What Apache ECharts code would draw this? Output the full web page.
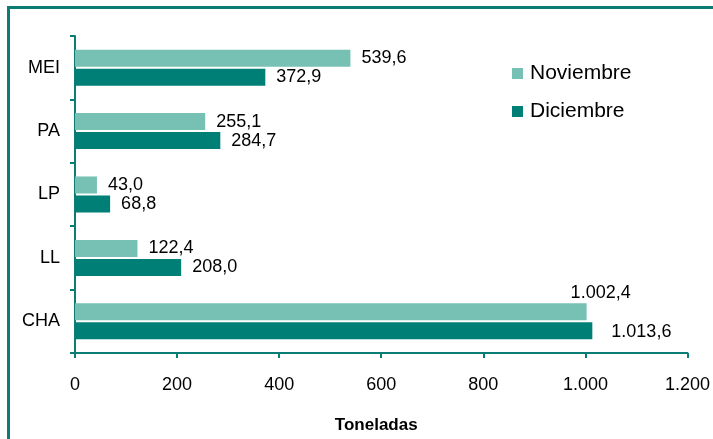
<!DOCTYPE html>
<html>
<head>
<meta charset="utf-8">
<script src="https://cdn.jsdelivr.net/npm/echarts@6/dist/echarts.min.js"></script>
<style>
  html, body { margin: 0; padding: 0; background: #fff; }
  #frame { position: absolute; left: 7px; top: 6px; right: 0; bottom: 0; border-left: 3px solid #0b7d75; border-top: 3px solid #0b7d75; }
  #myChart { position: absolute; left: 0; top: 0; width: 713px; height: 439px; }
</style>
</head>
<body>
<div id="frame"></div>
<div id="myChart"></div>
<script>
  const categories = ['MEI', 'PA', 'LP', 'LL', 'CHA'];
  const noviembre = [539.6, 255.1, 43.0, 122.4, 1002.4];
  const diciembre = [372.9, 284.7, 68.8, 208.0, 1013.6];
  const xTicks = [0, 200, 400, 600, 800, 1000, 1200];

  const lightTeal = '#76c0b4';
  const darkTeal = '#007f77';
  const axisTeal = '#0b7d75';

  // 1002.4 -> "1.002,4"
  const fmt = (v, dec) => {
    let s = v.toFixed(dec);
    let parts = s.split('.');
    parts[0] = parts[0].replace(/\B(?=(\d{3})+(?!\d))/g, '.');
    return parts.join(',');
  };

  const labelStyle = {
    show: true,
    position: 'right',
    distance: 11,
    color: '#000',
    fontFamily: 'Liberation Sans, Arial, sans-serif',
    fontSize: 18,
    formatter: p => fmt(p.value, 1)
  };

  // CHA labels sit above / shifted like in the original
  const novData = noviembre.map((v, i) => i === 4
    ? { value: v, label: { offset: [-27, -19] } }
    : v);
  const dicData = diciembre.map((v, i) => i === 4
    ? { value: v, label: { offset: [8, 1] } }
    : v);

  const myChart = echarts.init(document.getElementById('myChart'));
  myChart.setOption({
    animation: false,
    textStyle: { fontFamily: 'Liberation Sans, Arial, sans-serif' },
    legend: {
      data: ['Noviembre', 'Diciembre'],
      orient: 'vertical',
      left: 507,
      top: 58,
      icon: 'rect',
      itemWidth: 11,
      itemHeight: 11,
      itemGap: 17,
      textStyle: { fontSize: 21, color: '#000', padding: [0, 0, 0, 2] }
    },
    grid: { left: 75, right: 25, top: 36, bottom: 84 },
    xAxis: {
      type: 'value',
      min: xTicks[0],
      max: xTicks[xTicks.length - 1],
      interval: 200,
      name: 'Toneladas',
      nameLocation: 'middle',
      nameGap: 64,
      nameTextStyle: { fontWeight: 'bold', fontSize: 17, color: '#000', padding: [0, 10, 0, 0] },
      axisLine: { show: true, lineStyle: { color: axisTeal, width: 2 } },
      axisTick: { show: true, length: 5, lineStyle: { color: axisTeal, width: 2 } },
      splitLine: { show: false },
      axisLabel: { color: '#000', fontSize: 18, margin: 23, formatter: v => fmt(v, 0) }
    },
    yAxis: {
      type: 'category',
      data: categories,
      inverse: true,
      axisLine: { show: true, lineStyle: { color: axisTeal, width: 2 } },
      axisTick: { show: true, length: 5, lineStyle: { color: axisTeal, width: 2 } },
      axisLabel: { color: '#000', fontSize: 18, margin: 15 }
    },
    series: [
      {
        name: 'Noviembre',
        type: 'bar',
        data: novData,
        itemStyle: { color: lightTeal },
        barWidth: 17,
        barGap: '12%',
        label: labelStyle
      },
      {
        name: 'Diciembre',
        type: 'bar',
        data: dicData,
        itemStyle: { color: darkTeal },
        barWidth: 17,
        barGap: '12%',
        label: labelStyle
      }
    ]
  });
</script>
</body>
</html>
